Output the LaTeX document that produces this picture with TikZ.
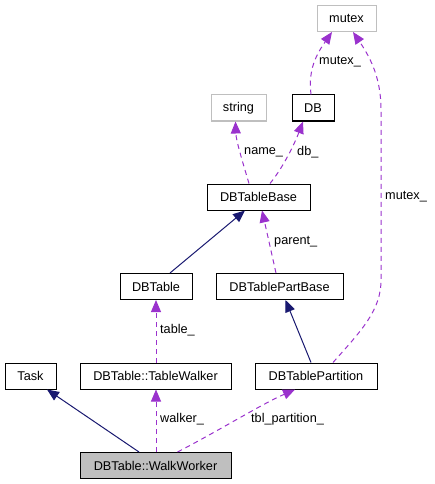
\documentclass[tikz,border=0pt]{standalone}
\usepackage{fontspec}
\setmainfont{Liberation Sans}
\usetikzlibrary{arrows.meta}
\definecolor{navy}{HTML}{191970}
\definecolor{orchid}{HTML}{9A32CD}
\definecolor{boxgray}{HTML}{BFBFBF}
\begin{document}
\begin{tikzpicture}[x=1pt,y=-1pt,
  every node/.style={font=\fontsize{12.7}{15}\selectfont},
  cls/.style={draw=black,line width=1pt,fill=white,minimum height=26pt,inner sep=0pt},
  ext/.style={draw=boxgray,line width=1pt,fill=white,minimum height=26pt,inner sep=0pt},
  cur/.style={draw=black,line width=1pt,fill=boxgray,minimum height=26pt,inner sep=0pt},
  inh/.style={draw=navy,line width=1pt,-{Triangle[length=12pt,width=10pt]},color=navy},
  use/.style={draw=orchid,line width=1pt,dash pattern=on 5pt off 4pt,-{Triangle[length=12pt,width=10pt]},color=orchid},
  lbl/.style={anchor=west,inner sep=0pt,text=black}]
\useasboundingbox (0,0) rectangle (435,484);
\node[ext,minimum width=59pt] (mutex) at (346.5,18.5) {mutex};
\node[cls,minimum width=42pt] (db) at (313,108) {DB};
\node[ext,minimum width=55pt] (string) at (238.5,108) {string};
\node[cls,minimum width=103pt] (dbtb) at (258.5,197) {DBTableBase};
\node[cls,minimum width=72pt] (dbt) at (156,286.5) {DBTable};
\node[cls,minimum width=127pt] (dbtpb) at (279.5,286.5) {DBTablePartBase};
\node[cls,minimum width=51pt] (task) at (30.5,376) {Task};
\node[cls,minimum width=151pt] (tw) at (155.5,376) {DBTable::TableWalker};
\node[cls,minimum width=122pt] (dbtp) at (316,376) {DBTablePartition};
\node[cur,minimum width=151pt] (ww) at (155.5,465.5) {DBTable::WalkWorker};
% inheritance
\draw[inh] ([xshift=-16.5pt]ww.north) -- ([xshift=16.5pt]task.south);
\draw[inh] ([xshift=-5pt]dbtp.north) -- ([xshift=6pt]dbtpb.south);
\draw[inh] ([xshift=14pt]dbt.north) -- ([xshift=-13.5pt]dbtb.south);
% usage
\draw[use] ([xshift=0.5pt]ww.north) -- ([xshift=0.5pt]tw.south);
\node[lbl] (l1) at (160,419) {walker\_};
\draw[use] ([xshift=22pt]ww.north) .. controls (220,430) and (260,405) .. ([xshift=-21pt]dbtp.south);
\node[lbl] (l2) at (251,419) {tbl\_partition\_};
\draw[use] ([xshift=0.5pt]tw.north) -- (dbt.south);
\node[lbl] (l3) at (160,330) {table\_};
\draw[use] ([xshift=-3.5pt]dbtpb.north) -- ([xshift=3.5pt]dbtb.south);
\node[lbl] (l4) at (274,242) {parent\_};
\draw[use] ([xshift=-9.5pt]dbtb.north) .. controls (242,160) and (236,140) .. ([xshift=-3pt]string.south);
\node[lbl] (l5) at (244,152) {name\_};
\draw[use] ([xshift=11.5pt]dbtb.north) .. controls (285,165) and (296,140) .. ([xshift=-10pt]db.south);
\node[lbl] (l6) at (297,152) {db\_};
\draw[use] ([xshift=-2pt]db.north) .. controls (308,70) and (316,55) .. ([xshift=-14.5pt]mutex.south);
\node[lbl] (l7) at (319,62) {mutex\_};
\draw[use] ([xshift=17pt]dbtp.north) .. controls (362,330) and (381,310) .. (381,280) -- (381,110) .. controls (381,80) and (372,60) .. ([xshift=6.5pt]mutex.south);
\node[lbl] (l8) at (385,197) {mutex\_};
\end{tikzpicture}
\end{document}
